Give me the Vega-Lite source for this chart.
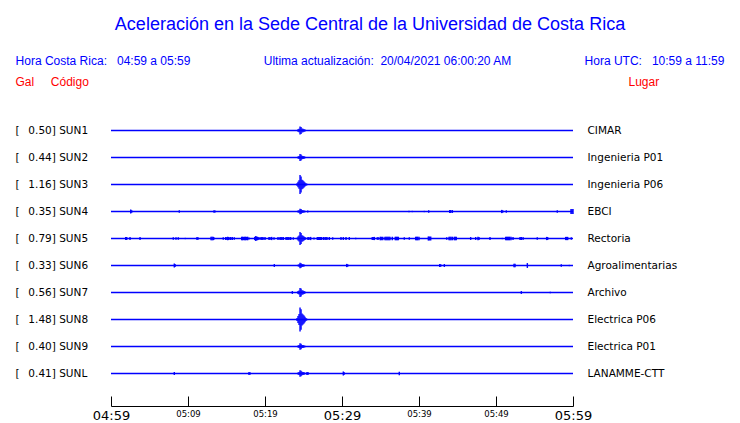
{
  "$schema": "https://vega.github.io/schema/vega-lite/v6.json",
  "width": 462,
  "height": 270,
  "autosize": {"type": "none"},
  "padding": {"left": 111, "top": 117, "right": 167, "bottom": 36},
  "background": "white",
  "config": {"view": {"stroke": null}, "font": "DejaVu Sans"},
  "title": {
    "text": "Aceleración en la Sede Central de la Universidad de Costa Rica",
    "subtitle": "Hora Costa Rica:\u00a0\u00a0\u00a004:59 a 05:59\u00a0\u00a0\u00a0\u00a0\u00a0\u00a0\u00a0\u00a0\u00a0\u00a0\u00a0\u00a0\u00a0\u00a0\u00a0\u00a0\u00a0\u00a0\u00a0\u00a0\u00a0\u00a0Ultima actualización:\u00a0\u00a020/04/2021 06:00:20 AM\u00a0\u00a0\u00a0\u00a0\u00a0\u00a0\u00a0\u00a0\u00a0\u00a0\u00a0\u00a0\u00a0\u00a0\u00a0\u00a0\u00a0\u00a0\u00a0\u00a0\u00a0\u00a0Hora UTC:\u00a0\u00a0\u00a010:59 a 11:59",
    "anchor": "middle",
    "frame": "group",
    "dx": 28,
    "font": "Liberation Sans",
    "fontSize": 18,
    "fontWeight": "normal",
    "color": "#0000ff",
    "subtitleFont": "Liberation Sans",
    "subtitleFontSize": 12,
    "subtitleColor": "#0000ff",
    "subtitlePadding": 22,
    "offset": 8
  },
  "datasets": {
    "estaciones": [
      {"est": "SUN1", "etiqueta": "[\u00a0\u00a0\u20090.50] SUN1", "lugar": "CIMAR"},
      {"est": "SUN2", "etiqueta": "[\u00a0\u00a0\u20090.44] SUN2", "lugar": "Ingenieria P01"},
      {"est": "SUN3", "etiqueta": "[\u00a0\u00a0\u20091.16] SUN3", "lugar": "Ingenieria P06"},
      {"est": "SUN4", "etiqueta": "[\u00a0\u00a0\u20090.35] SUN4", "lugar": "EBCI"},
      {"est": "SUN5", "etiqueta": "[\u00a0\u00a0\u20090.79] SUN5", "lugar": "Rectoria"},
      {"est": "SUN6", "etiqueta": "[\u00a0\u00a0\u20090.33] SUN6", "lugar": "Agroalimentarias"},
      {"est": "SUN7", "etiqueta": "[\u00a0\u00a0\u20090.56] SUN7", "lugar": "Archivo"},
      {"est": "SUN8", "etiqueta": "[\u00a0\u00a0\u20091.48] SUN8", "lugar": "Electrica P06"},
      {"est": "SUN9", "etiqueta": "[\u00a0\u00a0\u20090.40] SUN9", "lugar": "Electrica P01"},
      {"est": "SUNL", "etiqueta": "[\u00a0\u00a0\u20090.41] SUNL", "lugar": "LANAMME-CTT"}
    ],
    "senal": [
      {"est":"SUN1","t":24.16,"a":0.06},{"est":"SUN1","t":24.29,"a":0.15},{"est":"SUN1","t":24.42,"a":0.22},{"est":"SUN1","t":24.55,"a":0.50},{"est":"SUN1","t":24.68,"a":0.42},{"est":"SUN1","t":24.81,"a":0.25},{"est":"SUN1","t":24.94,"a":0.21},{"est":"SUN1","t":25.07,"a":0.16},{"est":"SUN1","t":25.19,"a":0.11},{"est":"SUN1","t":25.32,"a":0.06},{"est":"SUN1","t":25.45,"a":0.04},
      {"est":"SUN2","t":24.16,"a":0.05},{"est":"SUN2","t":24.29,"a":0.13},{"est":"SUN2","t":24.42,"a":0.20},{"est":"SUN2","t":24.55,"a":0.44},{"est":"SUN2","t":24.68,"a":0.37},{"est":"SUN2","t":24.81,"a":0.22},{"est":"SUN2","t":24.94,"a":0.18},{"est":"SUN2","t":25.07,"a":0.15},{"est":"SUN2","t":25.19,"a":0.10},{"est":"SUN2","t":25.32,"a":0.05},{"est":"SUN2","t":25.45,"a":0.03},
      {"est":"SUN3","t":24.16,"a":0.14},{"est":"SUN3","t":24.29,"a":0.35},{"est":"SUN3","t":24.42,"a":0.52},{"est":"SUN3","t":24.55,"a":1.16},{"est":"SUN3","t":24.68,"a":0.99},{"est":"SUN3","t":24.81,"a":0.58},{"est":"SUN3","t":24.94,"a":0.49},{"est":"SUN3","t":25.07,"a":0.38},{"est":"SUN3","t":25.19,"a":0.26},{"est":"SUN3","t":25.32,"a":0.14},{"est":"SUN3","t":25.45,"a":0.08},
      {"est":"SUN4","t":24.16,"a":0.04},{"est":"SUN4","t":24.29,"a":0.11},{"est":"SUN4","t":24.42,"a":0.16},{"est":"SUN4","t":24.55,"a":0.35},{"est":"SUN4","t":24.68,"a":0.30},{"est":"SUN4","t":24.81,"a":0.18},{"est":"SUN4","t":24.94,"a":0.15},{"est":"SUN4","t":25.07,"a":0.12},{"est":"SUN4","t":25.19,"a":0.08},{"est":"SUN4","t":25.32,"a":0.04},{"est":"SUN4","t":25.55,"a":0.12},
      {"est":"SUN4","t":2.56,"a":0.25},{"est":"SUN4","t":2.69,"a":0.15},{"est":"SUN4","t":8.87,"a":0.15},{"est":"SUN4","t":13.38,"a":0.15},{"est":"SUN4","t":13.51,"a":0.12},{"est":"SUN4","t":38.70,"a":0.08},{"est":"SUN4","t":39.13,"a":0.08},{"est":"SUN4","t":40.69,"a":0.08},{"est":"SUN4","t":41.26,"a":0.15},{"est":"SUN4","t":43.99,"a":0.2},{"est":"SUN4","t":44.12,"a":0.2},{"est":"SUN4","t":44.33,"a":0.18},{"est":"SUN4","t":50.74,"a":0.2},{"est":"SUN4","t":50.87,"a":0.15},{"est":"SUN4","t":51.34,"a":0.15},{"est":"SUN4","t":57.96,"a":0.15},{"est":"SUN4","t":59.74,"a":0.3},{"est":"SUN4","t":59.87,"a":0.3},{"est":"SUN4","t":60.0,"a":0.3},
      {"est":"SUN5","t":24.16,"a":0.09},{"est":"SUN5","t":24.29,"a":0.24},{"est":"SUN5","t":24.42,"a":0.36},{"est":"SUN5","t":24.55,"a":0.79},{"est":"SUN5","t":24.68,"a":0.67},{"est":"SUN5","t":24.81,"a":0.40},{"est":"SUN5","t":24.94,"a":0.33},{"est":"SUN5","t":25.07,"a":0.26},{"est":"SUN5","t":25.19,"a":0.17},{"est":"SUN5","t":25.32,"a":0.09},{"est":"SUN5","t":25.45,"a":0.06},
      {"est":"SUN5","t":1.91,"a":0.18},{"est":"SUN5","t":2.04,"a":0.18},{"est":"SUN5","t":2.47,"a":0.18},{"est":"SUN5","t":3.77,"a":0.18},{"est":"SUN5","t":8.09,"a":0.15},{"est":"SUN5","t":8.44,"a":0.15},{"est":"SUN5","t":8.74,"a":0.15},{"est":"SUN5","t":9.65,"a":0.08},{"est":"SUN5","t":11.17,"a":0.18},{"est":"SUN5","t":11.30,"a":0.15},
      {"est":"SUN5","t":12.99,"a":0.22},{"est":"SUN5","t":13.12,"a":0.22},{"est":"SUN5","t":13.25,"a":0.22},{"est":"SUN5","t":13.34,"a":0.2},{"est":"SUN5","t":14.58,"a":0.15},{"est":"SUN5","t":14.90,"a":0.2},{"est":"SUN5","t":15.03,"a":0.15},{"est":"SUN5","t":15.16,"a":0.22},{"est":"SUN5","t":15.29,"a":0.2},{"est":"SUN5","t":15.42,"a":0.12},{"est":"SUN5","t":15.55,"a":0.2},{"est":"SUN5","t":15.75,"a":0.18},{"est":"SUN5","t":16.01,"a":0.15},
      {"est":"SUN5","t":16.97,"a":0.22},{"est":"SUN5","t":17.10,"a":0.22},{"est":"SUN5","t":17.23,"a":0.2},{"est":"SUN5","t":17.36,"a":0.22},{"est":"SUN5","t":17.49,"a":0.22},{"est":"SUN5","t":17.62,"a":0.2},{"est":"SUN5","t":17.75,"a":0.22},{"est":"SUN5","t":17.92,"a":0.12},
      {"est":"SUN5","t":18.66,"a":0.2},{"est":"SUN5","t":18.79,"a":0.3},{"est":"SUN5","t":18.92,"a":0.25},{"est":"SUN5","t":19.05,"a":0.2},{"est":"SUN5","t":19.18,"a":0.15},{"est":"SUN5","t":19.26,"a":0.12},{"est":"SUN5","t":19.48,"a":0.2},{"est":"SUN5","t":19.61,"a":0.2},{"est":"SUN5","t":19.74,"a":0.18},{"est":"SUN5","t":20.0,"a":0.2},
      {"est":"SUN5","t":20.52,"a":0.2},{"est":"SUN5","t":20.65,"a":0.2},{"est":"SUN5","t":20.87,"a":0.2},{"est":"SUN5","t":21.17,"a":0.15},{"est":"SUN5","t":21.69,"a":0.18},{"est":"SUN5","t":21.95,"a":0.18},{"est":"SUN5","t":22.08,"a":0.18},{"est":"SUN5","t":22.21,"a":0.18},{"est":"SUN5","t":22.38,"a":0.18},
      {"est":"SUN5","t":22.73,"a":0.2},{"est":"SUN5","t":22.86,"a":0.2},{"est":"SUN5","t":22.99,"a":0.2},{"est":"SUN5","t":23.12,"a":0.2},{"est":"SUN5","t":23.34,"a":0.2},{"est":"SUN5","t":23.68,"a":0.15},
      {"est":"SUN5","t":25.58,"a":0.2},{"est":"SUN5","t":25.71,"a":0.18},{"est":"SUN5","t":25.93,"a":0.2},{"est":"SUN5","t":26.36,"a":0.12},{"est":"SUN5","t":26.79,"a":0.2},{"est":"SUN5","t":26.92,"a":0.2},{"est":"SUN5","t":27.05,"a":0.2},{"est":"SUN5","t":27.18,"a":0.2},{"est":"SUN5","t":27.31,"a":0.2},{"est":"SUN5","t":27.57,"a":0.2},
      {"est":"SUN5","t":27.79,"a":0.18},{"est":"SUN5","t":27.92,"a":0.18},{"est":"SUN5","t":28.05,"a":0.18},{"est":"SUN5","t":28.35,"a":0.18},{"est":"SUN5","t":28.79,"a":0.15},{"est":"SUN5","t":29.87,"a":0.18},{"est":"SUN5","t":30.17,"a":0.18},{"est":"SUN5","t":30.52,"a":0.18},{"est":"SUN5","t":30.95,"a":0.18},{"est":"SUN5","t":31.78,"a":0.08},{"est":"SUN5","t":32.77,"a":0.06},
      {"est":"SUN5","t":33.93,"a":0.2},{"est":"SUN5","t":34.06,"a":0.2},{"est":"SUN5","t":34.20,"a":0.2},{"est":"SUN5","t":34.58,"a":0.15},{"est":"SUN5","t":34.71,"a":0.15},{"est":"SUN5","t":34.97,"a":0.22},{"est":"SUN5","t":35.10,"a":0.22},{"est":"SUN5","t":35.29,"a":0.22},
      {"est":"SUN5","t":35.58,"a":0.22},{"est":"SUN5","t":35.71,"a":0.22},{"est":"SUN5","t":35.84,"a":0.22},{"est":"SUN5","t":35.97,"a":0.22},{"est":"SUN5","t":36.10,"a":0.22},{"est":"SUN5","t":36.23,"a":0.22},{"est":"SUN5","t":36.53,"a":0.22},
      {"est":"SUN5","t":36.92,"a":0.22},{"est":"SUN5","t":37.05,"a":0.22},{"est":"SUN5","t":37.18,"a":0.22},{"est":"SUN5","t":37.31,"a":0.22},{"est":"SUN5","t":38.09,"a":0.15},{"est":"SUN5","t":38.74,"a":0.15},
      {"est":"SUN5","t":39.57,"a":0.22},{"est":"SUN5","t":39.70,"a":0.22},{"est":"SUN5","t":39.83,"a":0.22},{"est":"SUN5","t":40.0,"a":0.22},{"est":"SUN5","t":41.21,"a":0.25},{"est":"SUN5","t":41.34,"a":0.25},{"est":"SUN5","t":41.52,"a":0.25},
      {"est":"SUN5","t":43.60,"a":0.15},{"est":"SUN5","t":43.90,"a":0.22},{"est":"SUN5","t":44.03,"a":0.22},{"est":"SUN5","t":44.16,"a":0.22},{"est":"SUN5","t":44.33,"a":0.22},{"est":"SUN5","t":44.58,"a":0.22},{"est":"SUN5","t":44.71,"a":0.22},{"est":"SUN5","t":44.84,"a":0.22},
      {"est":"SUN5","t":46.71,"a":0.18},{"est":"SUN5","t":47.36,"a":0.18},{"est":"SUN5","t":47.66,"a":0.22},{"est":"SUN5","t":47.79,"a":0.2},{"est":"SUN5","t":49.22,"a":0.18},{"est":"SUN5","t":50.82,"a":0.08},
      {"est":"SUN5","t":51.26,"a":0.22},{"est":"SUN5","t":51.39,"a":0.22},{"est":"SUN5","t":51.52,"a":0.22},{"est":"SUN5","t":51.65,"a":0.22},{"est":"SUN5","t":51.78,"a":0.22},{"est":"SUN5","t":51.95,"a":0.22},{"est":"SUN5","t":52.21,"a":0.18},
      {"est":"SUN5","t":53.12,"a":0.2},{"est":"SUN5","t":53.25,"a":0.2},{"est":"SUN5","t":53.34,"a":0.2},{"est":"SUN5","t":53.55,"a":0.15},{"est":"SUN5","t":55.36,"a":0.15},{"est":"SUN5","t":56.58,"a":0.2},{"est":"SUN5","t":56.71,"a":0.18},{"est":"SUN5","t":59.05,"a":0.2},{"est":"SUN5","t":59.18,"a":0.2},{"est":"SUN5","t":59.31,"a":0.2},{"est":"SUN5","t":59.78,"a":0.15},
      {"est":"SUN6","t":24.16,"a":0.04},{"est":"SUN6","t":24.29,"a":0.10},{"est":"SUN6","t":24.42,"a":0.15},{"est":"SUN6","t":24.55,"a":0.33},{"est":"SUN6","t":24.68,"a":0.28},{"est":"SUN6","t":24.81,"a":0.17},{"est":"SUN6","t":24.94,"a":0.14},{"est":"SUN6","t":25.07,"a":0.11},{"est":"SUN6","t":25.19,"a":0.07},{"est":"SUN6","t":25.32,"a":0.04},{"est":"SUN6","t":25.45,"a":0.02},
      {"est":"SUN6","t":8.22,"a":0.25},{"est":"SUN6","t":8.35,"a":0.15},{"est":"SUN6","t":21.21,"a":0.18},{"est":"SUN6","t":30.61,"a":0.2},{"est":"SUN6","t":30.74,"a":0.15},{"est":"SUN6","t":33.29,"a":0.06},{"est":"SUN6","t":42.69,"a":0.18},{"est":"SUN6","t":42.82,"a":0.15},{"est":"SUN6","t":43.29,"a":0.18},{"est":"SUN6","t":52.34,"a":0.22},{"est":"SUN6","t":52.47,"a":0.22},{"est":"SUN6","t":54.07,"a":0.3},{"est":"SUN6","t":58.48,"a":0.15},{"est":"SUN6","t":59.52,"a":0.08},
      {"est":"SUN7","t":24.16,"a":0.07},{"est":"SUN7","t":24.29,"a":0.17},{"est":"SUN7","t":24.42,"a":0.25},{"est":"SUN7","t":24.55,"a":0.56},{"est":"SUN7","t":24.68,"a":0.48},{"est":"SUN7","t":24.81,"a":0.28},{"est":"SUN7","t":24.94,"a":0.24},{"est":"SUN7","t":25.07,"a":0.18},{"est":"SUN7","t":25.19,"a":0.12},{"est":"SUN7","t":25.32,"a":0.07},{"est":"SUN7","t":25.45,"a":0.04},
      {"est":"SUN7","t":23.55,"a":0.18},{"est":"SUN7","t":53.29,"a":0.18},{"est":"SUN7","t":57.05,"a":0.08},
      {"est":"SUN8","t":24.16,"a":0.18},{"est":"SUN8","t":24.29,"a":0.44},{"est":"SUN8","t":24.42,"a":0.67},{"est":"SUN8","t":24.55,"a":1.48},{"est":"SUN8","t":24.68,"a":1.26},{"est":"SUN8","t":24.81,"a":0.74},{"est":"SUN8","t":24.94,"a":0.62},{"est":"SUN8","t":25.07,"a":0.49},{"est":"SUN8","t":25.19,"a":0.33},{"est":"SUN8","t":25.32,"a":0.18},{"est":"SUN8","t":25.45,"a":0.10},
      {"est":"SUN9","t":24.16,"a":0.05},{"est":"SUN9","t":24.29,"a":0.12},{"est":"SUN9","t":24.42,"a":0.18},{"est":"SUN9","t":24.55,"a":0.40},{"est":"SUN9","t":24.68,"a":0.34},{"est":"SUN9","t":24.81,"a":0.20},{"est":"SUN9","t":24.94,"a":0.17},{"est":"SUN9","t":25.07,"a":0.13},{"est":"SUN9","t":25.19,"a":0.09},{"est":"SUN9","t":25.32,"a":0.05},{"est":"SUN9","t":25.45,"a":0.03},
      {"est":"SUNL","t":24.16,"a":0.05},{"est":"SUNL","t":24.29,"a":0.12},{"est":"SUNL","t":24.42,"a":0.18},{"est":"SUNL","t":24.55,"a":0.41},{"est":"SUNL","t":24.68,"a":0.35},{"est":"SUNL","t":24.81,"a":0.21},{"est":"SUNL","t":24.94,"a":0.17},{"est":"SUNL","t":25.07,"a":0.14},{"est":"SUNL","t":25.19,"a":0.09},{"est":"SUNL","t":25.32,"a":0.05},{"est":"SUNL","t":25.45,"a":0.18},{"est":"SUNL","t":25.58,"a":0.18},
      {"est":"SUNL","t":8.22,"a":0.18},{"est":"SUNL","t":17.92,"a":0.18},{"est":"SUNL","t":18.05,"a":0.15},{"est":"SUNL","t":30.17,"a":0.25},{"est":"SUNL","t":30.30,"a":0.15},{"est":"SUNL","t":37.44,"a":0.22}
    ]
  },
  "layer": [
    {
      "data": {"name": "estaciones"},
      "mark": {"type": "rule", "color": "#0000ff", "strokeWidth": 1.3},
      "encoding": {
        "x": {"datum": 0, "type": "quantitative"},
        "x2": {"datum": 60},
        "y": {
          "field": "lugar",
          "type": "nominal",
          "scale": {"type": "point", "padding": 0.5, "domain": ["CIMAR", "Ingenieria P01", "Ingenieria P06", "EBCI", "Rectoria", "Agroalimentarias", "Archivo", "Electrica P06", "Electrica P01", "LANAMME-CTT"]},
          "axis": {
            "orient": "right",
            "domain": false,
            "ticks": false,
            "grid": false,
            "labelPadding": 14,
            "labelAlign": "left",
            "labelFont": "DejaVu Sans",
            "labelFontSize": 10.5,
            "labelColor": "#000000",
            "title": "Lugar",
            "titleAngle": 0,
            "titleAlign": "left",
            "titleBaseline": "alphabetic",
            "titleX": 55,
            "titleY": -32,
            "titleFont": "Liberation Sans",
            "titleFontSize": 12,
            "titleFontWeight": "normal",
            "titleColor": "#ff0000"
          }
        }
      }
    },
    {
      "data": {"name": "senal"},
      "transform": [
        {"lookup": "est", "from": {"data": {"name": "estaciones"}, "key": "est", "fields": ["etiqueta"]}}
      ],
      "mark": {"type": "tick", "orient": "vertical", "color": "#0000ff", "thickness": 1.4, "opacity": 1},
      "encoding": {
        "x": {
          "field": "t",
          "type": "quantitative",
          "scale": {"domain": [0, 60], "nice": false, "zero": false},
          "axis": {
            "orient": "bottom",
            "offset": 19,
            "values": [0, 5, 10, 15, 20, 25, 30, 35, 40, 45, 50, 55, 60],
            "labelExpr": "datum.value % 10 === 0 ? timeFormat(datetime(2021, 3, 20, 4, 59 + datum.value), '%H:%M') : ''",
            "grid": false,
            "domainColor": "#000000",
            "tickColor": "#000000",
            "tickSize": -10,
            "labelPadding": 13,
            "labelBaseline": "top",
            "labelFlush": false,
            "labelOverlap": false,
            "labelBound": false,
            "labelFont": "DejaVu Sans",
            "labelFontSize": {"condition": {"test": "datum.value % 30 === 0", "value": 13}, "value": 8.5},
            "labelColor": "#000000",
            "title": null
          }
        },
        "y": {
          "field": "etiqueta",
          "type": "nominal",
          "scale": {"type": "point", "padding": 0.5, "domain": ["[\u00a0\u00a0\u20090.50] SUN1", "[\u00a0\u00a0\u20090.44] SUN2", "[\u00a0\u00a0\u20091.16] SUN3", "[\u00a0\u00a0\u20090.35] SUN4", "[\u00a0\u00a0\u20090.79] SUN5", "[\u00a0\u00a0\u20090.33] SUN6", "[\u00a0\u00a0\u20090.56] SUN7", "[\u00a0\u00a0\u20091.48] SUN8", "[\u00a0\u00a0\u20090.40] SUN9", "[\u00a0\u00a0\u20090.41] SUNL"]},
          "axis": {
            "orient": "left",
            "domain": false,
            "ticks": false,
            "grid": false,
            "labelPadding": 96,
            "labelAlign": "left",
            "labelFont": "DejaVu Sans",
            "labelFontSize": 10.5,
            "labelColor": "#000000",
            "title": "Gal\u00a0\u00a0\u00a0\u00a0\u00a0Código",
            "titleAngle": 0,
            "titleAlign": "left",
            "titleBaseline": "alphabetic",
            "titleX": -96,
            "titleY": -32,
            "titleFont": "Liberation Sans",
            "titleFontSize": 12,
            "titleFontWeight": "normal",
            "titleColor": "#ff0000"
          }
        },
        "size": {
          "field": "a",
          "type": "quantitative",
          "scale": {"domain": [0, 1.5], "range": [0, 24.3], "zero": true},
          "legend": null
        }
      }
    }
  ],
  "resolve": {"scale": {"y": "independent"}, "axis": {"y": "independent"}}
}
